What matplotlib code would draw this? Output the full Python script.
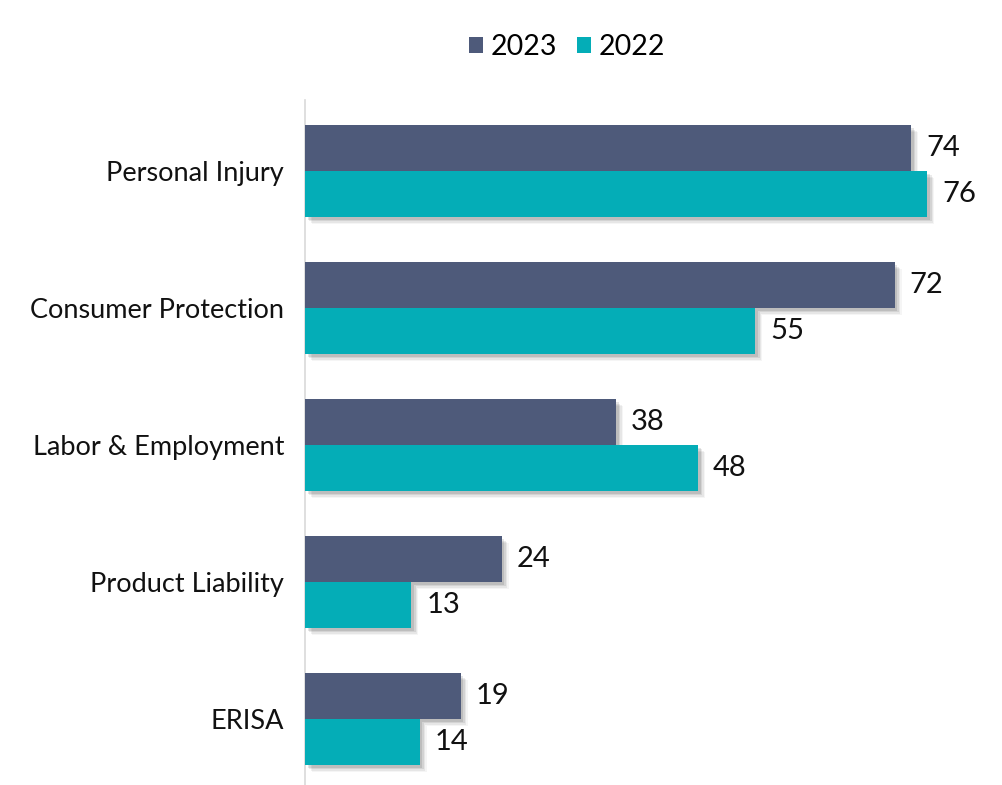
import matplotlib
matplotlib.use("Agg")
import matplotlib.pyplot as plt
import matplotlib.patheffects as pe
import numpy as np

categories = ["Personal Injury", "Consumer Protection", "Labor & Employment", "Product Liability", "ERISA"]
values_2023 = [74, 72, 38, 24, 19]
values_2022 = [76, 55, 48, 13, 14]
series_names = ["2023", "2022"]
colors = ["#4E5A7A", "#04ADB7"]

plt.rcParams['font.family'] = ['Lato', 'DejaVu Sans']

fig = plt.figure(figsize=(10.02, 7.85), dpi=100)
ax = fig.add_axes([305/1002, 0, 1 - 305/1002, (785-100)/785])

y = np.arange(len(categories))
h = 0.335
shadow = [pe.SimplePatchShadow(offset=(o, -o), shadow_rgbFace="#000000", alpha=a)
          for o, a in [(5, 0.04), (4, 0.06), (3, 0.08), (2, 0.1)]] + [pe.Normal()]

b1 = ax.barh(y - h/2, values_2023, height=h, color=colors[0], label=series_names[0], zorder=3)
b2 = ax.barh(y + h/2, values_2022, height=h, color=colors[1], label=series_names[1], zorder=3)
for bars in (b1, b2):
    for b in bars:
        b.set_path_effects(shadow)

for yy, v in zip(y - h/2, values_2023):
    ax.annotate(str(v), (v, yy), xytext=(15, 0), textcoords="offset pixels",
                va="center", ha="left", fontsize=21, color="#111111")
for yy, v in zip(y + h/2, values_2022):
    ax.annotate(str(v), (v, yy), xytext=(15, 0), textcoords="offset pixels",
                va="center", ha="left", fontsize=21, color="#111111")

ax.set_xlim(0, 697/8.19)
ax.set_ylim(4.48, -0.52)
ax.set_yticks(y)
ax.set_yticklabels(categories, fontsize=19.5, color="#111111")
ax.tick_params(axis='y', length=0, pad=15)
ax.set_xticks([])
for s in ["top", "right", "bottom"]:
    ax.spines[s].set_visible(False)
ax.spines["left"].set_color("#D9D9D9")
ax.spines["left"].set_linewidth(1.2)

leg = fig.legend(handles=[b1, b2], labels=series_names, loc="center", bbox_to_anchor=(567/1002, 1 - 47/785),
                 ncol=2, frameon=False, fontsize=20.5, handlelength=0.5, handleheight=0.5,
                 handletextpad=0.25, columnspacing=0.7)
for hnd in leg.legend_handles:
    hnd.set_path_effects([])

fig.savefig("out.png", dpi=100)
